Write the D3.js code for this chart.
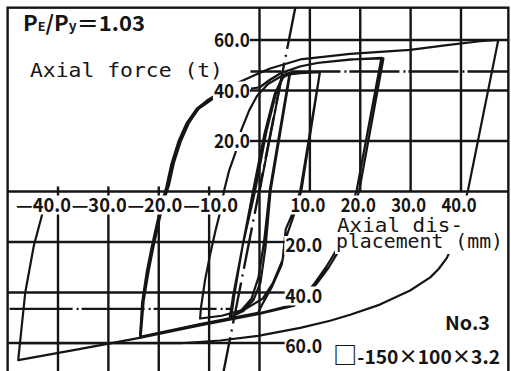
<!DOCTYPE html>
<html>
<head>
<meta charset="utf-8">
<script src="https://cdn.jsdelivr.net/npm/d3@7.9.0/dist/d3.min.js"></script>
<style>
  html, body { margin: 0; padding: 0; background: #fff; }
  svg { display: block; }
  .grid line, .overlay line { stroke: #151515; stroke-width: 2.4; }
  .frame { fill: none; stroke: #151515; stroke-width: 2.4; }
  .curve { fill: none; stroke: #151515; stroke-width: 2.2; stroke-linejoin: round; }
  .chain { fill: none; stroke: #151515; stroke-width: 2.4; }
  .backdrop { fill: #fff; }
  text { fill: #151515; }
  .tick { font-family: "Noto Sans CJK JP", "DejaVu Sans", sans-serif; font-weight: bold; font-size: 19px; }
  .mono { font-family: "DejaVu Sans Mono", "Liberation Mono", monospace; font-size: 20px; }
</style>
</head>
<body>
<svg id="chart" width="511" height="371"></svg>
<script>
// axis ticks (mm / t)
const xTicksPos = [10, 20, 30, 40];
const xTicksNeg = [-40, -30, -20, -10];
const yTicksPos = [20, 40, 60];
const yTicksNeg = [-20, -40, -60];

// plotting window and reference lines
const frameDisp = [-50, 49.4];
const frameForce = [-73, 72.8];
const yieldTension = 47.5;
const yieldCompression = -46.5;
const elasticLine = [[7.1, 72.8], [-7.3, -73]];

// hysteresis, [displacement mm, axial force t]
const cycle6 = [
  [0, 0], [4.4, 45.2], [5.2, 46.6], [6.1, 47.0],
  [2.2, 0.3], [1.2, -22], [0.2, -36], [-1.2, -43], [-3.2, -47.3], [-5.6, -49.6],
  [-5.0, -41], [-3.4, -22], [-1.3, 0], [1.0, 23], [3.0, 38.5], [4.4, 44.6], [5.6, 46.7], [6.0, 47.2],
  [2.0, 0], [0.9, -20], [-0.2, -34], [-1.6, -42.5], [-3.6, -47], [-5.9, -50.1],
  [-5.3, -42], [-3.3, -21], [-0.9, 0], [1.4, 24], [3.3, 39], [4.7, 45.2], [6.5, 47.0]
];

const cycle12 = [
  [6.5, 47.0], [9.0, 47.2], [12.0, 47.4],
  [8.1, 0.3], [6.6, -8.5], [5.2, -15], [4.6, -27], [2.6, -36.5], [0.6, -42.5], [-3.0, -46.8], [-7.5, -49.2], [-11.8, -50.3],
  [-11.6, -45.7], [-10.8, -35], [-9.8, -25], [-8.8, -16], [-7.8, -8], [-7.0, 0.6], [-6.0, 8.5], [-4.8, 15.2],
  [-3.6, 24.4], [-2.0, 32.3], [-0.5, 37.8], [1.7, 42.6], [4.7, 46.1], [8.1, 46.9], [12.0, 47.3],
  [8.3, 0.2], [6.9, -9], [5.5, -17], [4.4, -29], [2.4, -38], [0.6, -44.5], [-0.3, -48.1], [-11.8, -52.5], [-23.7, -57.6]
];

const cycle24 = [
  [-23.7, -57.6], [-23.1, -43], [-22.1, -31], [-21.1, -21], [-20.1, -12], [-19.1, -3.4], [-18.2, 2.6], [-17.2, 11.7],
  [-15.8, 20.4], [-14.2, 27.5], [-12.3, 33], [-9.3, 37.2], [-5.5, 39.6], [-2.5, 40.6], [0, 41.2], [2, 44.2],
  [4.1, 46.8], [8, 49.5], [11.5, 50.9], [18, 52.2], [24.2, 52.9],
  [19.3, 0.6], [17.4, -12], [15.5, -22.4], [13.2, -30], [11.0, -36.2], [8.8, -41.5], [6.5, -45],
  [-0.3, -48.3], [-11.8, -52.7], [-23.6, -57.8],
  [-23.0, -43.4], [-22.0, -31.4], [-21.0, -21.4], [-20.0, -12.4], [-19.0, -3.8], [-18.0, 2.3], [-17.0, 11.3],
  [-15.6, 20.0], [-14.0, 27.2], [-12.1, 32.7], [-9.1, 36.9], [-5.3, 39.4], [-2.3, 40.5], [0.2, 41.4], [2.2, 44.3],
  [4.3, 46.9], [8.2, 49.6], [11.7, 51.0], [18.2, 52.3], [24.6, 52.7],
  [19.8, 0.4], [17.9, -12.2], [16.0, -22.6], [13.7, -30.2], [11.4, -36.4], [9.2, -41.7], [6.9, -45.2],
  [-0.3, -48.6], [-11.8, -53], [-23.8, -58], [-35.8, -62.4], [-47.9, -66.8],
  [-46.5, -40], [-44.8, -21.5], [-43.0, -8], [-42.3, -2]
];

const peakCycle = [
  [-23.7, -57.6], [-23.3, -44], [-22.4, -32], [-21.4, -22], [-20.4, -13], [-19.4, -4.5], [-18.5, 1.8], [-17.5, 10.8],
  [-16.1, 19.8], [-14.5, 27], [-12.5, 32.6], [-10.2, 36.4], [-7.6, 39.5], [-4.4, 43], [-0.9, 46.1], [2.1, 48.7],
  [8.1, 52.3], [18, 54.5], [29.9, 56.1], [37.2, 58.0], [43.8, 59.5], [47.4, 60.0],
  [41.4, 0.6], [40.0, -10], [38.6, -20], [37.2, -26.3], [35.6, -30.6], [33.9, -34], [29.9, -39.2], [23.9, -44.8],
  [18, -48.8], [14, -51.2], [8.1, -54], [-0.3, -57.2], [-7.8, -59], [-15.7, -60.1], [-25, -60.1], [-35, -60.1], [-47.6, -60.1]
];

const x = d3.scaleLinear().domain([-40, 40]).range([58, 461]);
const y = d3.scaleLinear().domain([-60, 60]).range([343, 40]);
const fmt = d3.format(".1f");

const svg = d3.select("#chart");

// grid: only upper-right and lower-left quadrants carry lines
const grid = svg.append("g").attr("class", "grid");

grid.selectAll(".vur").data(xTicksPos).join("line")
  .attr("x1", d => x(d)).attr("x2", d => x(d))
  .attr("y1", y(0)).attr("y2", y(frameForce[1]));

grid.selectAll(".hur").data(yTicksPos).join("line")
  .attr("x1", x(0)).attr("x2", x(frameDisp[1]))
  .attr("y1", d => y(d)).attr("y2", d => y(d));

grid.selectAll(".vll").data(xTicksNeg).join("line")
  .attr("x1", d => x(d)).attr("x2", d => x(d))
  .attr("y1", y(2)).attr("y2", y(frameForce[0]));

grid.selectAll(".hll").data(yTicksNeg).join("line")
  .attr("x1", x(frameDisp[0])).attr("x2", x(0))
  .attr("y1", d => y(d)).attr("y2", d => y(d));

// dash-dot reference lines
const line = d3.line().x(d => x(d[0])).y(d => y(d[1]));

svg.append("path").attr("class", "chain")
  .attr("d", line([[-1.8, yieldTension], [frameDisp[1], yieldTension]]))
  .attr("stroke-dasharray", "50 4 2 3").attr("stroke-dashoffset", 19);

svg.append("path").attr("class", "chain")
  .attr("d", line([[frameDisp[0], yieldCompression], [-5.4, yieldCompression]]))
  .attr("stroke-dasharray", "63 4 2 3").attr("stroke-dashoffset", -2);

svg.append("path").attr("class", "chain")
  .attr("d", line(elasticLine))
  .attr("stroke-dasharray", "42 6 2 6");

// load-displacement curves
[cycle6, cycle12, cycle24, peakCycle].forEach(c => {
  svg.append("path").attr("class", "curve").attr("d", line(c));
});

// white box behind a label, like the paste-up in the print
function backdrop(sel, above, below) {
  sel.each(function () {
    const b = this.getBBox();
    const base = +this.getAttribute("y");
    d3.select(this.parentNode).insert("rect", () => this)
      .attr("class", "backdrop")
      .attr("x", b.x - 1).attr("width", b.width + 2)
      .attr("y", base - above).attr("height", above + below);
  });
}

const negLabelX = d3.scaleLinear().domain([-40, -10]).range([x(-40) - 5, x(-10) + 11]);

const xNegLabels = svg.selectAll(".xneg").data(xTicksNeg).join("text")
  .attr("class", "tick")
  .attr("x", d => negLabelX(d) - 37)
  .attr("y", y(0) + 20)
  .attr("textLength", 55).attr("lengthAdjust", "spacingAndGlyphs")
  .text(d => "—" + fmt(-d));
backdrop(xNegLabels, 16, 3);

const xPosLabels = svg.selectAll(".xpos").data(xTicksPos).join("text")
  .attr("class", "tick")
  .attr("x", d => x(d) - 2)
  .attr("y", y(0) + 20)
  .attr("text-anchor", "middle")
  .attr("textLength", 35).attr("lengthAdjust", "spacingAndGlyphs")
  .text(d => fmt(d));
backdrop(xPosLabels, 16, 3);

const yPosLabels = svg.selectAll(".ypos").data(yTicksPos).join("text")
  .attr("class", "tick")
  .attr("x", x(-1.9))
  .attr("y", d => y(d) + 7)
  .attr("text-anchor", "end")
  .attr("textLength", 36).attr("lengthAdjust", "spacingAndGlyphs")
  .text(d => fmt(d));
backdrop(yPosLabels, 16, 3);

const yNegLabels = svg.selectAll(".yneg").data(yTicksNeg).join("text")
  .attr("class", "tick")
  .attr("x", x(5.1))
  .attr("y", d => y(d) + 10)
  .attr("textLength", 37).attr("lengthAdjust", "spacingAndGlyphs")
  .text(d => fmt(-d));
backdrop(yNegLabels, 16, 3);

// titles
const forceTitle = svg.append("text").attr("class", "mono")
  .attr("x", 30).attr("y", 77).attr("font-size", 21)
  .attr("textLength", 193).attr("lengthAdjust", "spacingAndGlyphs")
  .text("Axial force (t)");
backdrop(forceTitle, 17, 5);

const dispTitle1 = svg.append("text").attr("class", "mono")
  .attr("x", 337).attr("y", 232)
  .attr("textLength", 126).attr("lengthAdjust", "spacingAndGlyphs")
  .text("Axial dis-");
backdrop(dispTitle1, 18, 4);

const dispTitle2 = svg.append("text").attr("class", "mono")
  .attr("x", 336).attr("y", 248)
  .attr("textLength", 167).attr("lengthAdjust", "spacingAndGlyphs")
  .text("placement (mm)");
backdrop(dispTitle2, 14, 6);

const ratio = svg.append("text").attr("class", "tick")
  .attr("x", 23).attr("y", 31)
  .attr("textLength", 122).attr("lengthAdjust", "spacingAndGlyphs");
ratio.append("tspan").attr("font-size", 21).text("P");
ratio.append("tspan").attr("font-size", 12).text("E");
ratio.append("tspan").attr("font-size", 21).text("/P");
ratio.append("tspan").attr("font-size", 13).text("y");
ratio.append("tspan").attr("font-size", 21).text("＝1.03");

svg.append("text").attr("class", "tick")
  .attr("x", 445).attr("y", 330).attr("font-size", 21)
  .attr("textLength", 45).attr("lengthAdjust", "spacingAndGlyphs")
  .text("No.3");

const spec = svg.append("text").attr("class", "tick")
  .attr("x", 333).attr("y", 364).attr("font-size", 20).attr("font-weight", "normal")
  .attr("textLength", 167).attr("lengthAdjust", "spacingAndGlyphs");
spec.append("tspan").attr("font-size", 24).text("□");
spec.append("tspan").text("-150×100×3.2");

// frame, axes and tick dashes drawn last
const overlay = svg.append("g").attr("class", "overlay");

overlay.append("rect").attr("class", "frame")
  .attr("x", x(frameDisp[0])).attr("y", y(frameForce[1]))
  .attr("width", x(frameDisp[1]) - x(frameDisp[0]))
  .attr("height", y(frameForce[0]) - y(frameForce[1]));

overlay.append("line")
  .attr("x1", x(frameDisp[0])).attr("x2", x(frameDisp[1]))
  .attr("y1", y(0)).attr("y2", y(0));

overlay.append("line")
  .attr("x1", x(0)).attr("x2", x(0))
  .attr("y1", y(frameForce[1])).attr("y2", y(frameForce[0]));

overlay.selectAll(".tp").data(yTicksPos).join("line")
  .attr("x1", x(-1.9)).attr("x2", x(0))
  .attr("y1", d => y(d)).attr("y2", d => y(d));

overlay.selectAll(".tn").data(yTicksNeg).join("line")
  .attr("x1", x(0)).attr("x2", x(5))
  .attr("y1", d => y(d)).attr("y2", d => y(d));
</script>
</body>
</html>
